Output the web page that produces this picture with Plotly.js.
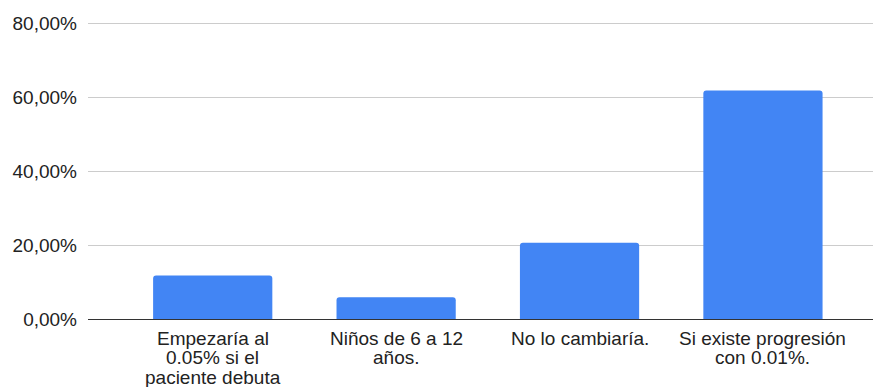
<!DOCTYPE html>
<html>
<head>
<meta charset="utf-8">
<script src="https://cdn.plot.ly/plotly-3.0.1.min.js"></script>
<style>html,body{margin:0;padding:0;background:#fff;}#chart{width:873px;height:387px;}</style>
</head>
<body>
<div id="chart"></div>
<script>
var categories = [
  ["Empezaría al", "0.05% si el", "paciente debuta"],
  ["Niños de 6 a 12", "años."],
  ["No lo cambiaría."],
  ["Si existe progresión", "con 0.01%."]
];
var values = [0.1176, 0.0588, 0.2059, 0.6176];
var yTicks = [0, 0.2, 0.4, 0.6, 0.8];

var xPos = categories.map(function (c, i) { return i; });

var trace = {
  type: 'bar',
  x: xPos,
  y: values,
  marker: {color: '#4285F4'},
  width: 0.65,
  hoverinfo: 'none'
};

var annotations = [];
categories.forEach(function (lines, i) {
  lines.forEach(function (line, j) {
    annotations.push({
      xref: 'x', yref: 'paper',
      x: xPos[i], y: 0,
      text: line,
      showarrow: false,
      xanchor: 'center', yanchor: 'middle',
      yshift: -19 - 19.5 * j,
      font: {size: 19, color: '#222'}
    });
  });
});

var layout = {
  width: 873, height: 387,
  margin: {l: 88, r: 0, t: 22, b: 68},
  paper_bgcolor: '#fff', plot_bgcolor: '#fff',
  separators: ',.',
  barcornerradius: 3,
  font: {family: 'Liberation Sans, Arial, sans-serif', size: 19, color: '#222'},
  showlegend: false,
  annotations: annotations,
  xaxis: {
    range: [-0.68, 3.6],
    tickmode: 'array',
    tickvals: xPos,
    ticktext: xPos.map(function () { return ''; }),
    showgrid: false,
    zeroline: false,
    showline: true,
    linecolor: '#333',
    linewidth: 1,
    ticks: ''
  },
  yaxis: {
    range: [0, 0.803],
    tickmode: 'array',
    tickvals: yTicks,
    tickformat: '.2%',
    showgrid: true,
    gridcolor: '#cccccc',
    gridwidth: 1,
    zeroline: false,
    showline: false,
    ticks: '',
    ticklabelstandoff: 10,
    tickfont: {size: 19, color: '#222'}
  }
};

Plotly.newPlot('chart', [trace], layout, {displayModeBar: false, staticPlot: true});
</script>
</body>
</html>
